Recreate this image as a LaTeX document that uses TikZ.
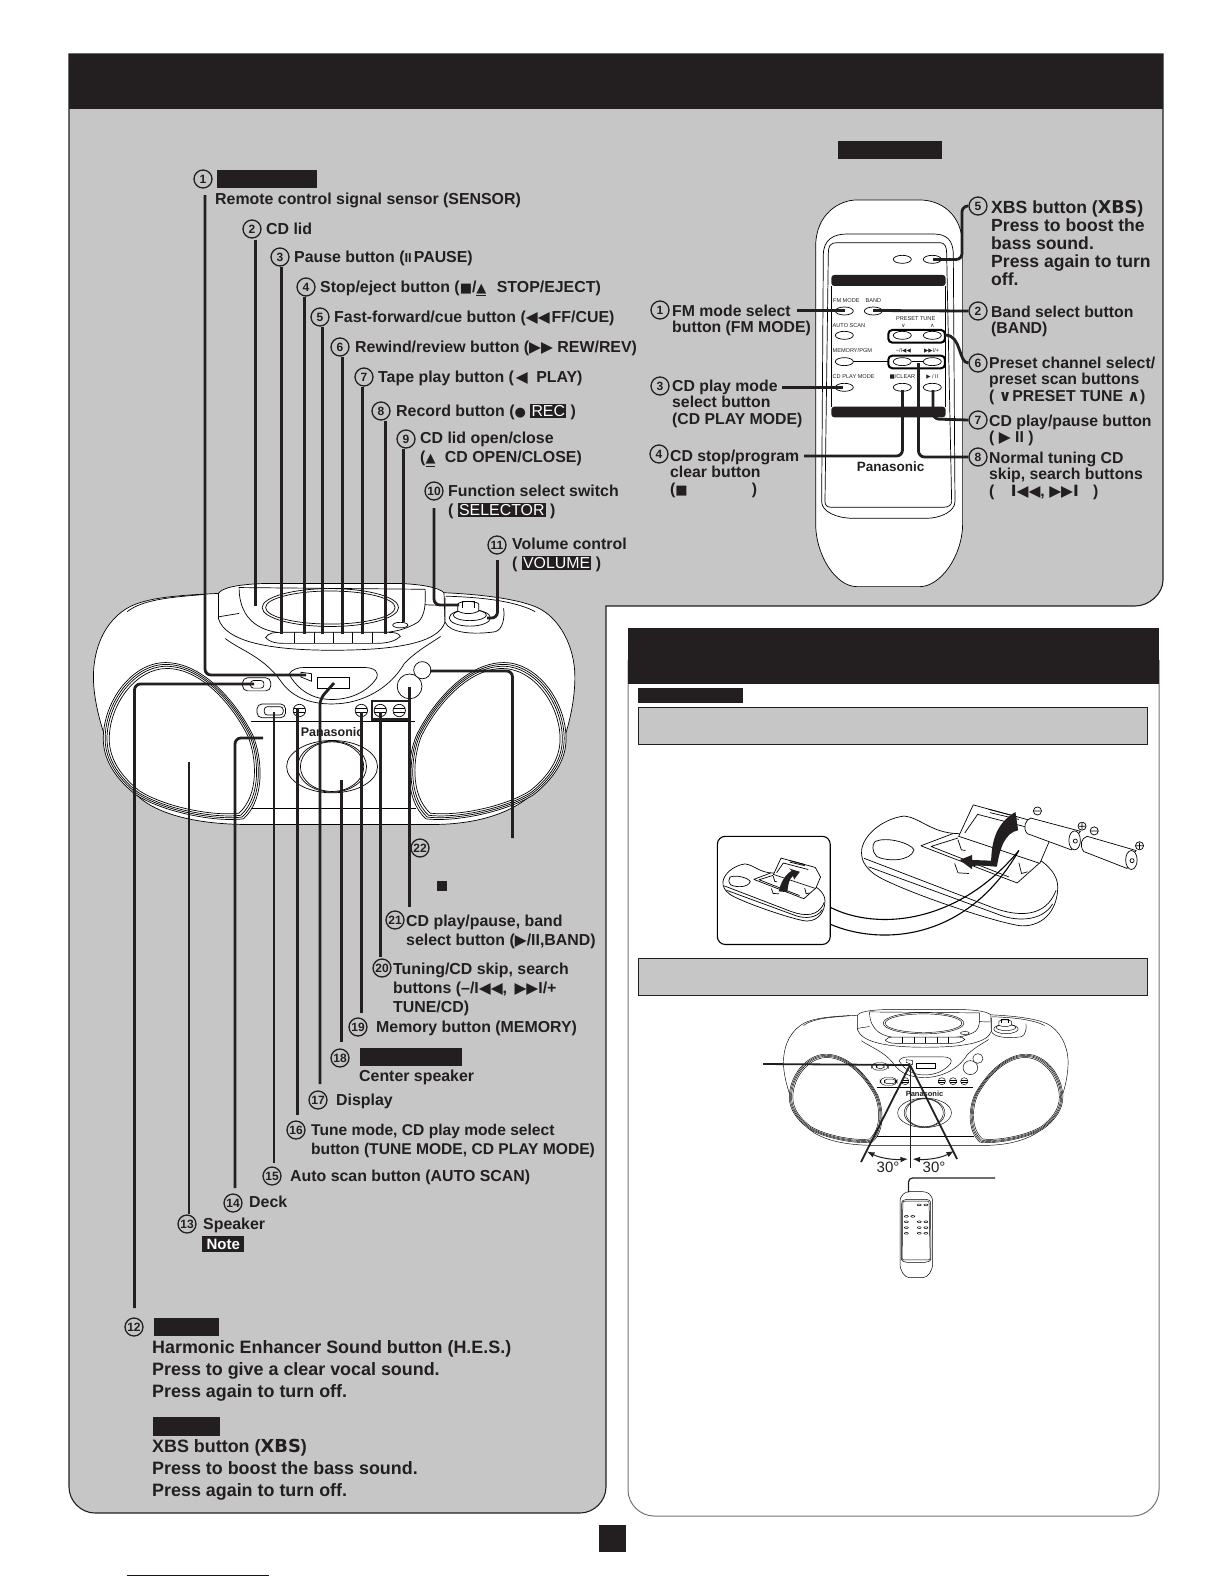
\documentclass[tikz,border=0pt]{standalone}
\usepackage{fontspec}
\setmainfont{Liberation Sans}
\newfontfamily\symfont{DejaVu Sans}
\usetikzlibrary{arrows.meta, positioning, shapes.geometric}
\definecolor{ink}{HTML}{231F20}
\definecolor{panelgray}{HTML}{C6C6C6}
\newcommand{\sg}[1]{{\symfont\fontsize{13}{13}\selectfont #1}}
\newcommand{\sgb}[1]{{\symfont\fontsize{15.5}{15.5}\selectfont #1}}
\newcommand{\ej}{\underline{\sg{▲}}}
\newcommand{\inv}[1]{{\setlength{\fboxsep}{1.2pt}\colorbox{ink}{\textcolor{white}{\mdseries #1}}}}
\newcommand{\xbs}{{\symfont\bfseries XBS}}
\tikzset{
  lbl/.style={anchor=north west, inner sep=0pt, yshift=15pt, align=left, text=ink,
    font=\bfseries\fontsize{15.9}{19}\selectfont, execute at begin node={\rule{0pt}{15pt}}},
  mlbl/.style={lbl, yshift=-4pt},
  rlbl/.style={mlbl, font=\bfseries\fontsize{15.8}{16.2}\selectfont},
  xlbl/.style={mlbl, yshift=2pt, font=\bfseries\fontsize{17.6}{18}\selectfont},
  blbl/.style={mlbl, yshift=3pt, font=\bfseries\fontsize{17.9}{22}\selectfont},
  num/.style={circle, draw=ink, line width=1.3pt, minimum size=18pt, inner sep=0pt, text=ink,
    font=\bfseries\fontsize{12}{12}\selectfont},
  tag/.style={fill=ink, inner sep=0pt, anchor=north west},
  leader/.style={draw=ink, line width=2.8pt, rounded corners=6pt},
  tinytxt/.style={inner sep=0pt, text=ink, font=\fontsize{5.6}{6}\selectfont},
  boombox/.pic={
    % body and deck
    \draw[fill=white] (460,97) .. controls (330,103) and (230,110) .. (180,150) .. controls (120,195) and (97,270) .. (97,340) .. controls (97,440) and (150,600) .. (220,680) .. controls (280,740) and (400,768) .. (550,768) -- (1080,768) .. controls (1220,768) and (1330,730) .. (1390,660) .. controls (1450,590) and (1495,450) .. (1495,340) .. controls (1495,250) and (1450,170) .. (1390,140) .. controls (1340,115) and (1230,100) .. (1115,95) -- cycle;
    \draw (420,100) .. controls (320,108) and (240,115) .. (195,150);
    \draw (1120,105) .. controls (1220,108) and (1320,118) .. (1380,150);
    \draw[fill=white] (460,97) .. controls (470,80) and (520,70) .. (600,68) -- (980,68) .. controls (1050,70) and (1100,80) .. (1115,95) -- (1118,180) .. controls (1100,235) and (1000,262) .. (790,262) .. controls (600,262) and (480,235) .. (460,170) -- cycle;
    \draw (520,80) -- (1060,85) .. controls (1062,130) and (1060,160) .. (1040,180) .. controls (1000,205) and (960,212) .. (900,212) -- (660,212) .. controls (590,212) and (520,180) .. cycle;
    \draw (460,165) -- (520,155);
    \draw (1060,130) -- (1115,132);
    \draw (785,138) ellipse [x radius=198, y radius=55];
    \draw (785,138) ellipse [x radius=188, y radius=48];
    % tape keys
    \draw[fill=white] (597,225) .. controls (605,212) and (620,210) .. (640,210) -- (950,210) .. controls (970,210) and (985,212) .. (988,222) .. controls (975,235) and (950,242) .. (920,242) -- (650,242) .. controls (620,242) and (605,235) .. cycle;
    \draw (680,210) -- (680,242) (738,210) -- (738,242) (795,210) -- (795,242) (850,210) -- (850,242) (908,210) -- (908,242);
    \draw (988,189) ellipse [x radius=22, y radius=8];
    % knobs
    \draw[fill=white] (1118,110) -- (1118,180) .. controls (1130,212) and (1200,218) .. (1265,208) .. controls (1285,200) and (1292,170) .. (1288,140);
    \draw[fill=white] (1190,168) ellipse [x radius=60, y radius=24];
    \draw (1190,160) ellipse [x radius=48, y radius=16];
    \draw[fill=white] (1155,148) -- (1155,128) .. controls (1160,118) and (1210,118) .. (1216,128) -- (1216,148) .. controls (1200,158) and (1170,158) .. cycle;
    \draw (1168,138) -- (1168,120) -- (1202,120) -- (1202,138);
    % display bay
    \draw (480,228) .. controls (520,260) and (590,280) .. (640,350) .. controls (670,395) and (720,418) .. (790,418) .. controls (880,418) and (960,370) .. (1000,300) .. controls (1040,260) and (1080,240) .. (1105,222);
    \draw (665,332) .. controls (672,318) and (690,312) .. (710,312) -- (880,312) .. controls (915,312) and (928,325) .. (918,345) .. controls (890,385) and (840,405) .. (790,405) .. controls (730,405) and (690,375) .. cycle;
    \draw (700,326) -- (730,330) -- (730,352) -- (700,340) -- cycle;
    \draw (748,342) rectangle (840,372);
    % front buttons
    \draw[rounded corners=5pt] (530,342) rectangle (612,380);
    \draw[rounded corners=3pt] (553,350) rectangle (592,372);
    \draw[rounded corners=5pt] (572,418) rectangle (655,458);
    \draw[rounded corners=3pt] (593,426) rectangle (648,450);
    \draw (695,437) circle [radius=18];
    \draw (875,437) circle [radius=18];
    \draw (930,437) circle [radius=18];
    \draw (985,437) circle [radius=18];
    \draw (678,432) -- (712,432) (678,442) -- (712,442) (858,432) -- (892,432) (858,442) -- (892,442) (913,432) -- (947,432) (913,442) -- (947,442) (968,432) -- (1002,432) (968,442) -- (1002,442);
    \draw (1015,367) circle [radius=36];
    \draw[fill=white] (1052,320) circle [radius=25];
    \draw (555,468) -- (1030,468) (555,722) -- (1035,722);
    \node[brand] (maker) at (790,500) {Panasonic};
    % center speaker
    \draw (790,600) ellipse [x radius=132, y radius=76];
    \draw (790,600) ellipse [x radius=92, y radius=72];
    \draw (790,600) ellipse [x radius=100, y radius=74];
    % side speakers
    \speakerset
    \begin{scope}[shift={(1595,0)}, xscale=-1]
      \speakerset
    \end{scope}
  }
}
\newcommand{\speakerrim}{(143,520) .. controls (143,420) and (220,315) .. (310,315) .. controls (410,315) and (500,420) .. (545,510) .. controls (570,570) and (580,680) .. (520,735) .. controls (440,745) and (300,715) .. (230,670) .. controls (180,630) and (143,580) .. cycle}
\newcommand{\speakerset}{%
  \foreach \k in {1.08,1.055,1.03,1}{
    \begin{scope}[shift={(360,530)}, scale=\k, shift={(-360,-530)}]
      \draw[fill=white] \speakerrim;
    \end{scope}
  }%
}
\newcommand{\handset}{%
  \draw[fill=white] (527,170) .. controls (527,70) and (600,30) .. (650,30) -- (840,30) .. controls (900,30) and (968,70) .. (968,170) -- (968,1000) .. controls (968,1100) and (900,1190) .. (840,1190) -- (650,1190) .. controls (590,1190) and (527,1100) .. (527,1000) -- cycle;
  \draw (550,195) .. controls (550,150) and (580,132) .. (620,132) -- (880,132) .. controls (920,132) and (940,150) .. (940,195) -- (945,935) .. controls (945,965) and (900,985) .. (860,985) -- (640,985) .. controls (590,985) and (545,965) .. (545,935) -- cycle;
  \draw (565,190) .. controls (565,170) and (570,158) .. (590,158) -- (900,158) .. controls (915,158) and (920,170) .. (920,190) -- (935,935) .. controls (935,945) and (925,952) .. (910,952) -- (575,952) .. controls (560,952) and (555,945) .. (555,935) -- cycle;
  \foreach \bx/\by in {787/208,877/208,613/363,700/363,613/436,787/436,877/436,613/515,787/515,877/515,613/592,787/592,877/592}{
    \draw[fill=white] (\bx,\by) ellipse [x radius=27, y radius=12];
  }%
}
\newcommand{\backcover}{%
  \draw[fill=white] (715,680) .. controls (720,640) and (770,590) .. (840,580) .. controls (890,585) and (920,630) .. (1000,632) -- (1180,680) .. controls (1240,700) and (1295,740) .. (1295,790) .. controls (1295,850) and (1260,905) .. (1190,905) .. controls (1120,900) and (800,790) .. (750,750) .. controls (725,730) and (712,710) .. (715,680) -- cycle;
  \draw (722,705) -- (1100,850) .. controls (1180,880) and (1260,880) .. (1290,800);
  \draw (735,730) -- (1130,875) .. controls (1180,892) and (1250,890) .. (1280,840);
  \draw (755,655) .. controls (790,640) and (860,660) .. (870,680) .. controls (860,715) and (790,715) .. (760,700) .. controls (745,685) and (745,665) .. cycle;
  \draw (890,668) -- (985,632) (890,668) -- (1175,778) -- (1240,720);
  \draw (920,670) -- (1000,645) (920,670) -- (1150,760);
  \draw[fill=white] (1002,640) -- (1045,547) -- (1240,600) -- (1270,655) -- (1242,720) -- cycle;
  \draw (1020,630) -- (1058,575) -- (1200,612);
  \draw (1090,560) -- (1175,582) (1095,570) -- (1180,590);
  \draw (1000,650) -- (1010,680) -- (1022,682) (990,720) -- (1000,748) -- (1032,750) (1180,718) -- (1188,750) -- (1206,745);
}
\begin{document}
\begin{tikzpicture}[x=1pt, y=-1pt]
    \useasboundingbox (0,0) rectangle (1224,1584);
    % panels
    \draw[draw=ink, line width=1.1pt, fill=panelgray] (69,54) -- (1163,54) -- (1163,580) .. controls (1163,594) and (1149,606) .. (1135,606) -- (606,606) -- (606,1487) .. controls (606,1501) and (594,1513) .. (580,1513) -- (95,1513) .. controls (81,1513) and (69,1501) .. (69,1487) -- cycle;
    \fill[ink] (69,54) rectangle (1163,109);
    \draw[draw=black!55, line width=1pt] (628,660) -- (628,1490) .. controls (628,1504) and (640,1516) .. (654,1516) -- (1133,1516) .. controls (1147,1516) and (1159,1504) .. (1159,1490) -- (1159,660);
    \fill[ink] (628,628) rectangle (1159,684);
    \node[tag, minimum width=104pt, minimum height=18pt] (remotetag) at (838,141) {};
    \node[tag, minimum width=100pt, minimum height=18pt] (sensortag) at (217,170) {};
    \node[tag, minimum width=105pt, minimum height=15pt] (usetag) at (638,688) {};
    \node[tag, fill=panelgray, draw=ink, line width=1.2pt, minimum width=509pt, minimum height=37pt] (batbar) at (638,707) {};
    \node[tag, fill=panelgray, draw=ink, line width=1.2pt, minimum width=509pt, minimum height=37pt] (aimbar) at (638,958) {};
    \node[tag, minimum width=27pt, minimum height=27pt] (pageno) at (599,1525) {};
    \draw[draw=blue!70!black, line width=.8pt] (127,1575) -- (269,1575);

    % main unit
    \begin{scope}[shift={(60,560)}, x=.3444pt, y=-.3444pt, line width=.7pt,
        brand/.style={inner sep=0pt, text=ink, font=\bfseries\fontsize{12.5}{13}\selectfont}]
      \pic (big) {boombox};
      \draw[line width=2.2pt, draw=ink] (905,410) rectangle (1015,463);
    \end{scope}

    % remote control
    \begin{scope}[shift={(640,190)}, x=.3333pt, y=-.3333pt, line width=.7pt]
      \handset
      \fill[ink, rounded corners=3pt] (574,288) -- (574,255) -- (917,255) -- (917,288) -- cycle;
      \fill[ink, rounded corners=3pt] (574,650) -- (574,682) -- (917,682) -- (917,650) -- cycle;
      \draw (574,288) -- (574,650) (917,288) -- (917,650);
      \draw[line width=2pt, rounded corners=4pt] (745,420) rectangle (915,458);
      \draw[line width=2pt, rounded corners=4pt] (745,497) rectangle (915,535);
      \draw[line width=1.6pt] (640,515) -- (745,515) (815,515) -- (850,515);
      \node[tinytxt] (kfm) at (619,331) {FM MODE};
      \node[tinytxt] (kband) at (700,331) {BAND};
      \node[tinytxt] (kscan) at (627,407) {AUTO SCAN};
      \node[tinytxt] (ktune) at (827,385) {PRESET TUNE};
      \node[tinytxt] (kdn) at (790,408) {{\symfont ∨}};
      \node[tinytxt] (kup) at (877,408) {{\symfont ∧}};
      \node[tinytxt] (kmem) at (637,481) {MEMORY/PGM};
      \node[tinytxt] (kprev) at (790,483) {−/I{\symfont ◀◀}};
      \node[tinytxt] (knext) at (875,483) {{\symfont ▶▶}I/+};
      \node[tinytxt] (kmode) at (641,561) {CD PLAY MODE};
      \node[tinytxt] (kclr) at (787,561) {{\symfont ■}/CLEAR};
      \node[tinytxt] (kplay) at (877,561) {{\symfont ▶} / II};
      \node[inner sep=0pt, text=ink, font=\bfseries\fontsize{13.5}{14}\selectfont] (kbrand) at (752,830) {Panasonic};
    \end{scope}

    % battery cover
    \begin{scope}[shift={(620,620)}, x=.338pt, y=-.338pt, line width=.7pt]
      \draw[fill=white, rounded corners=8pt, line width=1.1pt] (288,640) rectangle (622,960);
      \begin{scope}[shift={(-67,420)}, scale=.52]
        \backcover
      \end{scope}
      \fill[ink] (470,803) .. controls (475,775) and (490,752) .. (508,742) -- (500,735) -- (532,745) -- (515,768) -- (512,757) .. controls (500,765) and (497,785) .. (495,805) -- cycle;
      \backcover
      \fill[ink] (1098,712) .. controls (1100,650) and (1115,600) .. (1170,568) -- (1178,622) .. controls (1140,630) and (1125,670) .. (1115,730) .. controls (1090,728) and (1060,725) .. (1042,728) -- (1042,738) -- (1005,710) -- (1042,695) -- (1042,710) -- cycle;
      \draw[fill=white] (1215,586) -- (1362,625) .. controls (1350,640) and (1340,660) .. (1335,680) -- (1205,632) .. controls (1190,615) and (1200,590) .. cycle;
      \draw[fill=white] (1345,652) ellipse [x radius=17, y radius=28];
      \draw (1347,654) circle [radius=6];
      \draw[fill=white] (1382,640) -- (1527,682) .. controls (1515,695) and (1505,715) .. (1500,735) -- (1372,685) .. controls (1358,665) and (1365,645) .. cycle;
      \draw[fill=white] (1513,710) ellipse [x radius=17, y radius=28];
      \draw (1515,712) circle [radius=6];
      \draw (1235,565) circle [radius=12] (1226,565) -- (1244,565);
      \draw (1403,624) circle [radius=12] (1394,624) -- (1412,624);
      \draw (1367,610) circle [radius=12] (1358,610) -- (1376,610) (1367,601) -- (1367,619);
      \draw (1537,668) circle [radius=12] (1528,668) -- (1546,668) (1537,659) -- (1537,677);
      \coordinate (inseta) at (622,850);
      \coordinate (insetb) at (622,900);
      \coordinate (doorpt) at (1180,682);
      \draw[line width=1.1pt] (inseta) .. controls (760,920) and (1000,900) .. (doorpt);
      \draw[line width=1.1pt] (insetb) .. controls (760,960) and (1020,960) .. (doorpt);
    \end{scope}

    % aiming picture
    \begin{scope}[shift={(763.7,996.4)}, x=.2036pt, y=-.194pt, line width=.45pt,
        brand/.style={inner sep=0pt, text=ink, font=\bfseries\fontsize{7.5}{8}\selectfont}]
      \pic (small) {boombox};
    \end{scope}
    \begin{scope}[shift={(861,1189.5)}, x=.074pt, y=-.074pt, line width=.5pt]
      \handset
    \end{scope}
    \coordinate (eye) at (910,1065);
    \coordinate (eyeend) at (763,1064);
    \coordinate (rayl) at (861,1162);
    \coordinate (rayr) at (957,1159);
    \coordinate (raym) at (910,1168);
    \coordinate (handtop) at (908.5,1192);
    \coordinate (handend) at (995,1178);
    \draw[line width=1.8pt, draw=ink] (eyeend) -- (eye);
    \draw[line width=1.8pt, draw=ink] (eye) -- (rayl);
    \draw[line width=1.8pt, draw=ink] (eye) -- (rayr);
    \draw[line width=.8pt, draw=ink] (eye) -- (raym);
    \draw[line width=1pt, draw=ink, Latex-Latex] (867,1151.5) .. controls (880,1158) and (893,1160) .. (908,1159);
    \draw[line width=1pt, draw=ink, Latex-Latex] (912.5,1159) .. controls (927,1160) and (941,1158) .. (954,1151);
    \node[inner sep=0pt, text=ink, font=\fontsize{15}{15}\selectfont] (anglea) at (888,1167.5) {30°};
    \node[inner sep=0pt, text=ink, font=\fontsize{15}{15}\selectfont] (angleb) at (934,1167.5) {30°};
    \draw[line width=1.2pt, draw=ink, rounded corners=4pt] (handend) -- (handtop |- handend) -- (handtop);

    % labels round the top of the unit
    \node[num] (n1) at (203,179) {1};
    \node[lbl] (t1) at (215,204) {Remote control signal sensor (SENSOR)};
    \node[num] (n2) at (252,229) {2};
    \node[lbl] (t2) at (266,234) {CD lid};
    \node[num] (n3) at (280,257) {3};
    \node[lbl] (t3) at (294,262) {Pause button ({\fontsize{13}{13}\selectfont II}\hspace{2pt}PAUSE)};
    \node[num] (n4) at (306,287) {4};
    \node[lbl] (t4) at (320,292) {Stop/eject button (\sg{■}/\ej{}\hspace{6pt} STOP/EJECT)};
    \node[num] (n5) at (320,317) {5};
    \node[lbl] (t5) at (334,322) {Fast-forward/cue button (\sgb{◀◀}\hspace{2pt}FF/CUE)};
    \node[num] (n6) at (340,347) {6};
    \node[lbl] (t6) at (355,352) {Rewind/review button (\sgb{▶▶} REW/REV)};
    \node[num] (n7) at (364,377) {7};
    \node[lbl] (t7) at (378,382) {Tape play button (\hspace{2pt}\sgb{◀}\hspace{4pt} PLAY)};
    \node[num] (n8) at (381,411) {8};
    \node[lbl] (t8) at (396,416) {Record button (\sg{●} \inv{REC} )};
    \node[num] (n9) at (406,439) {9};
    \node[mlbl] (t9) at (420,443) {CD lid open/close\\(\ej{}\hspace{5pt} CD OPEN/CLOSE)};
    \node[num] (n10) at (434,491) {10};
    \node[mlbl] (t10) at (448,496) {Function select switch\\( \inv{SELECTOR} )};
    \node[num] (n11) at (497,545) {11};
    \node[mlbl] (t11) at (512,549) {Volume control\\( \inv{VOLUME} )};

    % labels below the unit
    \node[num] (n22) at (420,848) {22};
    \node[tag, minimum size=10pt] (stopmark) at (437,881) {};
    \node[num] (n21) at (395,920) {21};
    \node[mlbl] (t21) at (406,926) {CD play/pause, band\\select button (\sgb{▶}/II,BAND)};
    \node[num] (n20) at (382,968) {20};
    \node[mlbl] (t20) at (393,974) {Tuning/CD skip, search\\buttons (–/I\sgb{◀◀}, \hspace{3pt}\sgb{▶▶}I/+\\TUNE/CD)};
    \node[num] (n19) at (358,1027) {19};
    \node[lbl] (t19) at (376,1032) {Memory button (MEMORY)};
    \node[num] (n18) at (340,1058) {18};
    \node[tag, minimum width=102pt, minimum height=18pt] (speakertag) at (360,1048) {};
    \node[lbl] (t18) at (359,1081) {Center speaker};
    \node[num] (n17) at (318,1100) {17};
    \node[lbl] (t17) at (336,1105) {Display};
    \node[num] (n16) at (296,1130) {16};
    \node[mlbl, font=\bfseries\fontsize{15.6}{19}\selectfont] (t16) at (311,1135) {Tune mode, CD play mode select\\button (TUNE MODE, CD PLAY MODE)};
    \node[num] (n15) at (272,1176) {15};
    \node[lbl] (t15) at (290,1181) {Auto scan button (AUTO SCAN)};
    \node[num] (n14) at (233,1203) {14};
    \node[lbl] (t14) at (249,1207) {Deck};
    \node[num] (n13) at (187,1224) {13};
    \node[lbl] (t13) at (203,1229) {Speaker};
    \node[tag, minimum width=42pt, minimum height=16pt, text=white, font=\bfseries\fontsize{15}{15}\selectfont] (notetag) at (202,1236) {Note};
    \node[num] (n12) at (134,1327) {12};
    \node[tag, minimum width=65pt, minimum height=18pt] (hestag) at (154,1318) {};
    \node[blbl] (t12) at (152,1354) {Harmonic Enhancer Sound button (H.E.S.)\\Press to give a clear vocal sound.\\Press again to turn off.};
    \node[tag, minimum width=67pt, minimum height=19pt] (xbstag) at (153,1417) {};
    \node[blbl] (txbs) at (152,1453) {XBS button (\xbs)\\Press to boost the bass sound.\\Press again to turn off.};

    % targets on the unit
    \coordinate (s1) at (306,675);
    \coordinate (s2) at (255.5,606);
    \coordinate (s3) at (281.5,634);
    \coordinate (s4) at (304.5,634);
    \coordinate (s5) at (322.5,634);
    \coordinate (s6) at (342.5,634);
    \coordinate (s7) at (362.5,634);
    \coordinate (s8) at (385.5,634);
    \coordinate (s9) at (403.5,622);
    \coordinate (s10) at (459,605);
    \coordinate (s11) at (487,618);
    \coordinate (s12) at (254,684);
    \coordinate (s13) at (189,762);
    \coordinate (s14) at (263,738);
    \coordinate (s15) at (274,712);
    \coordinate (s16) at (297.5,708);
    \coordinate (s17) at (334,683);
    \coordinate (s18) at (341.5,780);
    \coordinate (s19) at (361.5,712);
    \coordinate (s20) at (380.5,712);
    \coordinate (s21) at (409.5,687);
    \coordinate (s22) at (430,671);
    \coordinate (e22) at (512.5,838);

    \draw[leader] (205,195) -- (205,675) -- (s1);
    \draw[leader] (n2.south -| s2) ++(0,1) -- (s2);
    \draw[leader] (n3.south -| s3) -- (s3);
    \draw[leader] (n4.south -| s4) -- (s4);
    \draw[leader] (n5.south -| s5) -- (s5);
    \draw[leader] (n6.south -| s6) -- (s6);
    \draw[leader] (n7.south -| s7) -- (s7);
    \draw[leader] (n8.south -| s8) -- (s8);
    \draw[leader] (n9.south -| s9) -- (s9);
    \draw[leader] (434,508) -- (434,605) -- (s10);
    \draw[leader] (497.5,560) -- (497.5,618) -- (s11);
    \draw[leader] (s12) -- (134.5,684) -- (134.5,1308);
    \draw[leader] (s13) -- (n13.north -| s13);
    \draw[leader] (s14) -- (235,738) -- (235,1188);
    \draw[leader] (s15) -- (274,1163);
    \draw[leader] (s16) -- (297.5,1115);
    \draw[leader] (s17) -- (320,699) -- (320,1084);
    \draw[leader] (s18) -- (341.5,1042);
    \draw[leader] (s19) -- (361.5,1013);
    \draw[leader] (s20) -- (380.5,957);
    \draw[leader] (s21) -- (409.5,907);
    \draw[leader] (s22) -- (512.5,671) -- (e22);

    % remote labels
    \node[num] (r1) at (660,310) {1};
    \node[rlbl] (u1) at (672,316) {FM mode select\\button (FM MODE)};
    \node[num] (r3) at (660,386) {3};
    \node[rlbl] (u3) at (672,391) {CD play mode\\select button\\(CD PLAY MODE)};
    \node[num] (r4) at (659,454) {4};
    \node[rlbl] (u4) at (670,461) {CD stop/program\\clear button\\(\sg{■}\hspace{64pt})};
    \node[num] (r5) at (978,206) {5};
    \node[xlbl] (u5) at (991,213) {XBS button (\xbs)\\Press to boost the\\bass sound.\\Press again to turn\\off.};
    \node[num] (r2) at (978,311) {2};
    \node[rlbl] (u2) at (991,317) {Band select button\\(BAND)};
    \node[num] (r6) at (978,363) {6};
    \node[rlbl] (u6) at (989,368) {Preset channel select/\\preset scan buttons\\( \sgb{∨}\hspace{1pt}PRESET TUNE \sgb{∧})};
    \node[num] (r7) at (978,420) {7};
    \node[rlbl] (u7) at (989,426) {CD play/pause button\\( \sgb{▶} II )};
    \node[num] (r8) at (978,457) {8};
    \node[rlbl] (u8) at (989,463) {Normal tuning CD\\skip, search buttons\\( \hspace{12pt}\sgb{I◀◀}, \sgb{▶▶I}\hspace{10pt} )};

    \coordinate (bfm) at (845,310.5);
    \coordinate (bmode) at (843,387.5);
    \coordinate (bclr) at (902.5,390);
    \coordinate (bxbs) at (933,259.5);
    \coordinate (bband) at (873,310.5);
    \coordinate (bscan) at (945,335);
    \coordinate (bplay) at (933,390);
    \coordinate (bskip) at (918.5,363);
    \draw[leader] (797,310.5) -- (bfm);
    \draw[leader] (782,387.5) -- (bmode);
    \draw[leader] (804,456) -- (902.5,456) -- (bclr);
    \draw[leader] (r5.west) -- (962,206) -- (962,259.5) -- (bxbs);
    \draw[leader] (r2.west) -- (bband);
    \draw[leader] (r6.west) .. controls (958,363) and (962,335) .. (bscan);
    \draw[leader] (r7.west) -- (933,419) -- (bplay);
    \draw[leader] (r8.west) -- (918.5,457) -- (bskip);
\end{tikzpicture}
\end{document}
